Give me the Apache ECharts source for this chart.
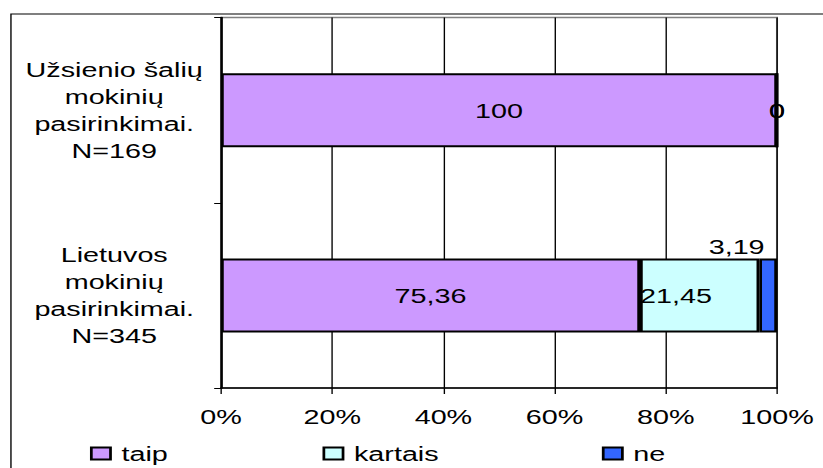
<!DOCTYPE html>
<html>
<head>
<meta charset="utf-8">
<script src="https://cdn.jsdelivr.net/npm/echarts@6/dist/echarts.min.js"></script>
<style>
  html, body { margin: 0; padding: 0; background: #fff; overflow: hidden; }
  #wrap { width: 823px; height: 468px; overflow: hidden; }
  /* the chart is laid out narrow and stretched sideways, giving the wide lettering */
  #chart { width: 601px; height: 468px; transform: scaleX(1.3694); transform-origin: 0 0; }
</style>
</head>
<body>
<div id="wrap"><div id="chart"></div></div>
<script>
const categories = [
  'Užsienio šalių\nmokinių\npasirinkimai.\nN=169',
  'Lietuvos\nmokinių\npasirinkimai.\nN=345'
];
const seriesNames = ['taip', 'kartais', 'ne'];
const taip = [100, 75.36];
const kartais = [0, 21.45];
const ne = [0, 3.19];

const FONT = "'Liberation Sans', Arial, sans-serif";
const fmt = v => String(v).replace('.', ',');

function items(values) {
  return values.map(v => v === 0
    ? { value: v, label: { position: 'inside', offset: [0, 0] } }
    : { value: v });
}

const chart = echarts.init(document.getElementById('chart'), null, { renderer: 'svg' });

const baseLabel = {
  show: true,
  fontFamily: FONT,
  fontSize: 21,
  color: '#000',
  formatter: p => fmt(p.value)
};

function bar(name, color, values, label) {
  return {
    type: 'bar',
    name: name,
    stack: 'total',
    barWidth: 74,
    itemStyle: { color: color, borderColor: '#000', borderWidth: 2 },
    label: Object.assign({}, baseLabel, label),
    data: items(values)
  };
}

chart.setOption({
  animation: false,
  textStyle: { fontFamily: FONT },
  graphic: [{
    type: 'rect',
    shape: { x: 8, y: 14, width: 800, height: 600 },
    style: { fill: 'none', stroke: '#000', lineWidth: 1 },
    silent: true,
    z: -10
  }],
  grid: {
    left: 161.4, right: 33.6, top: 17.5, bottom: 80,
    show: true, borderColor: '#808080', borderWidth: 1.5
  },
  legend: seriesNames.map((n, i) => ({
    data: [n],
    left: [65.7, 235.5, 439.5][i],
    top: 443,
    padding: 0,
    itemWidth: 14,
    itemHeight: 12,
    itemGap: 0,
    icon: 'rect',
    textStyle: { fontFamily: FONT, fontSize: 21, color: '#000', padding: [0, 0, 0, 3] }
  })),
  xAxis: {
    type: 'value',
    min: 0, max: 100, interval: 20,
    axisLine: { show: true, lineStyle: { color: '#000', width: 1.5 } },
    axisTick: { show: true, length: 6, lineStyle: { color: '#000' } },
    splitLine: { show: true, lineStyle: { color: '#000', width: 1 } },
    axisLabel: {
      formatter: '{value}%', fontFamily: FONT, fontSize: 21, color: '#000', margin: 18
    }
  },
  yAxis: {
    type: 'category',
    inverse: true,
    data: categories,
    axisLine: { show: true, lineStyle: { color: '#000', width: 1.5 } },
    axisTick: { show: true, length: 5, lineStyle: { color: '#000' } },
    axisLabel: {
      fontFamily: FONT, fontSize: 21, color: '#000',
      lineHeight: 27, align: 'center', margin: 78
    }
  },
  series: [
    bar('taip', '#CC99FF', taip, { position: 'inside' }),
    bar('kartais', '#CCFFFF', kartais, { position: 'insideLeft', distance: 0 }),
    bar('ne', '#3366FF', ne, { position: 'top', distance: 1, offset: [-23, 0] })
  ]
});
</script>
</body>
</html>
